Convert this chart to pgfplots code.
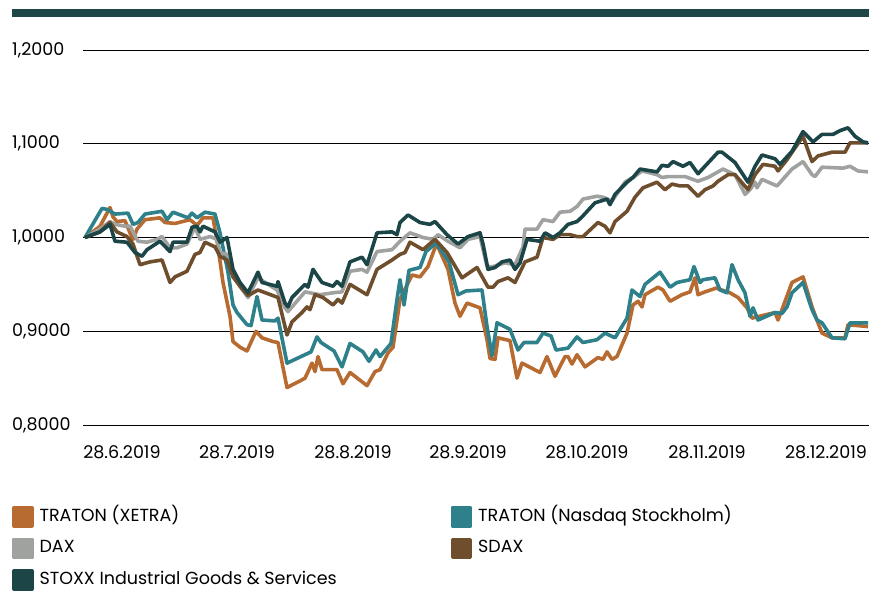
\documentclass[border=0pt]{standalone}
\usepackage{fontspec}
\setmainfont{Poppins}
\usepackage{pgfplots}
\pgfplotsset{compat=1.18}

\definecolor{xetra}{HTML}{B76B30}
\definecolor{nasdaq}{HTML}{2E808A}
\definecolor{daxgray}{HTML}{A0A2A0}
\definecolor{sdax}{HTML}{6E4E2C}
\definecolor{stoxx}{HTML}{1B4546}
\definecolor{topbar}{HTML}{1F4748}

\newcommand{\lblfont}{\fontsize{17.5bp}{20bp}\selectfont}

\begin{document}
\begin{tikzpicture}
\useasboundingbox (0,0) rectangle (869bp,-596bp);
\fill[topbar] (12bp,-9bp) rectangle (869bp,-17bp);
\begin{axis}[
  at={(83bp,-425bp)}, anchor=south west,
  scale only axis, width=786bp, height=375bp,
  xmin=83, xmax=869, ymin=0.8, ymax=1.2,
  axis line style={draw=none},
  tick style={draw=none}, major tick length=0pt,
  ytick={0.8,0.9,1.0,1.1,1.2},
  ymajorgrids, grid style={black, line width=0.8bp},
  xtick={122,237,353,468,587,707,826},
  xticklabels={28.6.2019,28.7.2019,28.8.2019,28.9.2019,28.10.2019,28.11.2019,28.12.2019},
  /pgf/number format/.cd, fixed, fixed zerofill, precision=4, use comma, assume math mode=true,
  /pgfplots/.cd,
  yticklabel style={anchor=west, inner sep=0pt, xshift=-71bp, font=\lblfont},
  xticklabel style={anchor=center, inner sep=0pt, yshift=-27bp, font=\lblfont},
  every axis plot/.append style={line width=3.6bp, line join=round},
  legend columns=2, legend cell align=left,
  legend image code/.code={\fill[#1] (0bp,-9bp) rectangle (18bp,9bp);},
  legend style={at={(axis description cs:-0.0903,-0.216)}, anchor=north west,
    draw=none, fill=none, inner sep=0pt, outer sep=0pt,
    row sep=10bp, column sep=6bp, font=\lblfont,
    nodes={inner sep=0pt, text height=12bp, text depth=3bp}},
]
% TRATON (XETRA)
\addplot[xetra] coordinates {
(85,1.000)(100,1.012)(110,1.032)(113,1.022)(117,1.017)(125,1.018)(130,1.005)(133,0.998)
(137,1.009)(145,1.019)(160,1.021)(165,1.016)(175,1.015)(190,1.019)(197,1.013)(203,1.021)
(213,1.021)(218,0.990)(223,0.952)(230,0.916)(233,0.889)(240,0.883)(247,0.879)(256,0.900)
(262,0.893)(273,0.889)(278,0.888)(287,0.840)(300,0.847)(305,0.850)(312,0.866)(315,0.857)
(318,0.873)(322,0.859)(337,0.859)(343,0.844)(350,0.856)(367,0.842)(375,0.857)(380,0.859)
(388,0.877)(393,0.883)(400,0.934)(412,0.960)(420,0.958)(428,0.969)(435,0.989)(438,0.990)
(448,0.966)(455,0.930)(460,0.916)(467,0.930)(480,0.925)(487,0.891)(490,0.871)(495,0.870)
(498,0.893)(510,0.890)(517,0.850)(522,0.866)(540,0.856)(547,0.873)(555,0.852)(565,0.873)
(568,0.873)(572,0.865)(577,0.875)(585,0.862)(598,0.872)(603,0.870)(607,0.878)(612,0.870)
(617,0.873)(627,0.898)(633,0.928)(638,0.932)(642,0.926)(645,0.939)(658,0.947)(663,0.944)
(670,0.932)(682,0.939)(690,0.942)(695,0.957)(698,0.939)(705,0.942)(716,0.946)(730,0.941)
(738,0.936)(747,0.925)(752,0.914)(775,0.920)(778,0.912)(783,0.926)(792,0.952)(803,0.958)
(812,0.926)(818,0.909)(822,0.898)(832,0.893)(845,0.893)(848,0.907)(868,0.905)
};
\addlegendentry{\makebox[405bp][l]{TRATON (XETRA)}}
% TRATON (Nasdaq Stockholm)
\addplot[nasdaq] coordinates {
(85,1.000)(102,1.031)(107,1.030)(115,1.025)(128,1.026)(133,1.014)(138,1.016)(145,1.025)
(162,1.028)(167,1.019)(173,1.027)(188,1.021)(192,1.026)(197,1.021)(205,1.027)(215,1.025)
(220,1.005)(228,0.963)(233,0.928)(237,0.920)(247,0.907)(251,0.906)(257,0.937)(262,0.912)
(275,0.911)(278,0.914)(287,0.866)(305,0.875)(311,0.878)(317,0.894)(321,0.888)(334,0.879)
(342,0.862)(350,0.887)(363,0.878)(369,0.868)(376,0.880)(380,0.873)(391,0.887)(397,0.934)
(400,0.955)(404,0.928)(409,0.965)(420,0.968)(426,0.985)(436,0.994)(449,0.974)(458,0.939)
(466,0.943)(482,0.944)(487,0.905)(492,0.874)(497,0.909)(510,0.902)(518,0.880)(524,0.888)
(537,0.888)(543,0.898)(551,0.895)(556,0.880)(568,0.882)(577,0.894)(583,0.888)(597,0.891)
(605,0.898)(615,0.893)(627,0.914)(632,0.944)(640,0.937)(645,0.950)(660,0.963)(670,0.947)
(677,0.952)(690,0.955)(694,0.969)(700,0.952)(703,0.955)(715,0.957)(720,0.944)(727,0.941)
(732,0.971)(738,0.955)(745,0.941)(750,0.916)(753,0.925)(758,0.912)(775,0.920)(782,0.919)
(787,0.926)(792,0.941)(803,0.952)(812,0.923)(817,0.912)(822,0.909)(832,0.893)(845,0.892)
(850,0.909)(868,0.909)
};
\addlegendentry{TRATON (Nasdaq Stockholm)}
% DAX
\addplot[daxgray] coordinates {
(85,1.000)(100,1.009)(110,1.017)(115,1.014)(125,1.012)(130,1.012)(138,0.996)(147,0.995)
(157,0.998)(162,1.001)(170,0.989)(177,0.989)(187,0.993)(195,1.011)(200,0.998)(210,1.001)
(217,0.998)(220,0.984)(227,0.982)(233,0.963)(240,0.948)(248,0.936)(258,0.957)(277,0.944)
(285,0.925)(288,0.921)(305,0.942)(320,0.939)(333,0.941)(342,0.942)(350,0.964)(362,0.966)
(367,0.963)(377,0.985)(392,0.987)(400,0.996)(410,1.005)(423,1.000)(433,0.998)(438,1.003)
(448,0.996)(460,0.989)(468,0.998)(480,1.001)(487,0.969)(493,0.969)(505,0.973)(515,0.971)
(523,0.990)(525,1.009)(537,1.009)(543,1.019)(553,1.017)(560,1.027)(570,1.028)(577,1.033)
(583,1.041)(597,1.044)(603,1.043)(612,1.039)(625,1.059)(637,1.067)(642,1.071)(657,1.067)
(662,1.064)(668,1.065)(685,1.065)(698,1.060)(708,1.064)(718,1.070)(723,1.073)(735,1.067)
(745,1.046)(750,1.051)(755,1.059)(757,1.053)(762,1.062)(777,1.055)(792,1.073)(803,1.081)
(812,1.067)(815,1.065)(822,1.075)(843,1.074)(850,1.076)(858,1.071)(868,1.070)
};
\addlegendentry{\makebox[405bp][l]{DAX}}
% SDAX
\addplot[sdax] coordinates {
(85,1.000)(100,1.006)(110,1.016)(117,1.006)(127,1.001)(133,0.993)(140,0.971)(150,0.974)
(162,0.976)(170,0.952)(175,0.958)(187,0.964)(195,0.982)(200,0.984)(205,0.995)(215,0.990)
(220,0.980)(227,0.976)(233,0.958)(240,0.948)(248,0.938)(258,0.944)(278,0.936)(287,0.896)
(292,0.910)(302,0.920)(307,0.926)(310,0.923)(315,0.939)(323,0.936)(333,0.928)(338,0.934)
(342,0.930)(350,0.950)(367,0.939)(377,0.966)(392,0.976)(400,0.982)(405,0.984)(410,0.995)
(423,0.987)(435,0.998)(447,0.984)(462,0.957)(477,0.968)(488,0.947)(493,0.947)(498,0.953)
(508,0.957)(515,0.952)(525,0.974)(537,0.979)(543,1.000)(553,0.998)(560,1.003)(570,1.003)
(577,1.001)(583,1.001)(598,1.016)(605,1.012)(610,1.005)(615,1.017)(627,1.028)(635,1.043)
(643,1.053)(657,1.059)(665,1.051)(672,1.057)(680,1.055)(688,1.055)(698,1.044)(705,1.051)
(713,1.055)(718,1.060)(728,1.067)(735,1.067)(748,1.051)(755,1.067)(763,1.078)(775,1.076)
(778,1.071)(787,1.083)(803,1.108)(812,1.081)(818,1.087)(832,1.091)(845,1.091)(850,1.101)
(868,1.101)
};
\addlegendentry{SDAX}
% STOXX Industrial Goods & Services
\addplot[stoxx] coordinates {
(85,1.000)(100,1.006)(110,1.014)(115,0.996)(127,0.995)(135,0.984)(142,0.980)(147,0.987)
(160,0.996)(170,0.985)(173,0.995)(187,0.995)(192,1.011)(197,1.012)(200,1.006)(203,1.012)
(215,1.006)(220,0.995)(227,1.000)(233,0.966)(240,0.952)(248,0.941)(258,0.963)(262,0.952)
(277,0.948)(278,0.953)(285,0.930)(288,0.926)(292,0.936)(305,0.950)(308,0.947)(313,0.966)
(322,0.952)(333,0.948)(337,0.953)(342,0.948)(350,0.974)(362,0.979)(367,0.971)(377,1.005)
(392,1.006)(397,1.003)(400,1.016)(408,1.024)(420,1.016)(430,1.014)(435,1.017)(447,1.003)
(458,0.993)(468,1.001)(480,1.005)(483,0.993)(488,0.966)(495,0.968)(502,0.974)(510,0.976)
(515,0.966)(520,0.973)(527,0.998)(540,0.996)(545,1.005)(553,1.000)(560,1.005)(568,1.014)
(577,1.017)(582,1.022)(595,1.037)(607,1.041)(610,1.035)(615,1.046)(627,1.059)(633,1.064)
(640,1.073)(657,1.070)(662,1.077)(668,1.076)(673,1.081)(683,1.076)(690,1.080)(698,1.068)
(718,1.091)(722,1.091)(735,1.080)(748,1.059)(755,1.076)(762,1.088)(775,1.084)(780,1.078)
(792,1.092)(803,1.113)(813,1.102)(822,1.110)(833,1.110)(840,1.114)(848,1.117)(855,1.108)
(863,1.102)(868,1.101)
};
\addlegendentry{STOXX Industrial Goods \& Services}
\end{axis}
\end{tikzpicture}
\end{document}
